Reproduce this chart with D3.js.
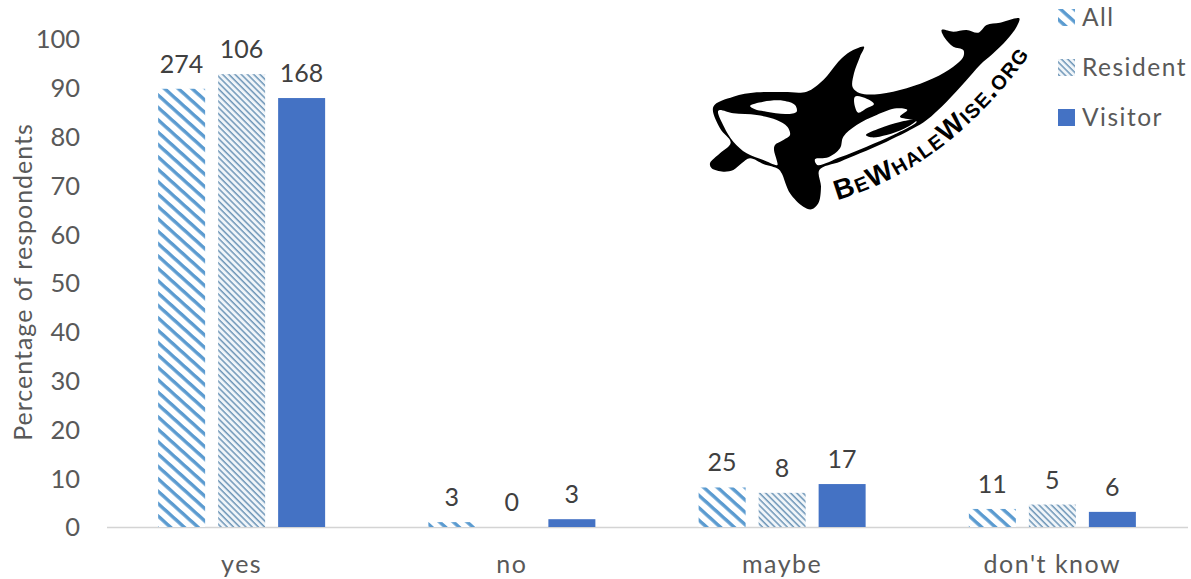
<!DOCTYPE html>
<html>
<head>
<meta charset="utf-8">
<script src="https://cdn.jsdelivr.net/npm/d3@7/dist/d3.min.js"></script>
<style>
  html, body { margin: 0; padding: 0; background: #fff; }
  svg { display: block; font-family: Lato, "Open Sans", sans-serif; }
</style>
</head>
<body>
<svg id="chart" width="1191" height="579"></svg>
<script>
// Survey responses, as percentages, with respondent counts printed above the bars.
const categories = ["yes", "no", "maybe", "don't know"];
const seriesNames = ["All", "Resident", "Visitor"];
const allPercent = [89.8, 1, 8.1, 3.7];
const residentPercent = [92.8, 0, 7.0, 4.6];
const visitorPercent = [87.9, 1.6, 8.8, 3.1];
const allCounts = [274, 3, 25, 11];
const residentCounts = [106, 0, 8, 5];
const visitorCounts = [168, 3, 17, 6];
const yTicks = [0, 10, 20, 30, 40, 50, 60, 70, 80, 90, 100];

const percents = [allPercent, residentPercent, visitorPercent];
const counts = [allCounts, residentCounts, visitorCounts];

const svg = d3.select("#chart");
const defs = svg.append("defs");

// Hatch fills for the two lighter series.
const wide = defs.append("pattern").attr("id", "hatch-all")
  .attr("patternUnits", "userSpaceOnUse").attr("width", 9.2).attr("height", 9.2)
  .attr("patternTransform", "rotate(42)");
wide.append("rect").attr("width", 9.2).attr("height", 9.2).attr("fill", "#fff");
wide.append("rect").attr("width", 9.2).attr("height", 3.4).attr("fill", "#5b9bd0");

const fine = defs.append("pattern").attr("id", "hatch-resident")
  .attr("patternUnits", "userSpaceOnUse").attr("width", 4.4).attr("height", 4.4)
  .attr("patternTransform", "rotate(45)");
fine.append("rect").attr("width", 4.4).attr("height", 4.4).attr("fill", "#f0f5f9");
fine.append("rect").attr("width", 4.4).attr("height", 1.5).attr("fill", "#6f97b8");

const fills = ["url(#hatch-all)", "url(#hatch-resident)", "#4472c4"];

const x = d3.scaleBand().domain(categories).range([106.5, 1187.5]);
const inner = d3.scaleBand().domain(d3.range(seriesNames.length))
  .range([0, 167]).paddingInner(13 / 60);
const y = d3.scaleLinear().domain([0, 100]).range([527, 39]);
const groupOffset = (x.bandwidth() - 167) / 2;

// Axes: text only on the value axis, a light rule along the baseline.
const yAxis = svg.append("g").attr("transform", "translate(80,0)")
  .call(d3.axisLeft(y).tickValues(yTicks).tickSize(0).tickPadding(0));
yAxis.select(".domain").remove();
yAxis.selectAll("text").attr("font-size", 25.5).attr("fill", "#595959")
  .attr("font-family", "Lato").attr("dy", "0.35em");

const xAxis = svg.append("g").attr("transform", "translate(0,527)")
  .call(d3.axisBottom(x).tickSize(0).tickPadding(0));
xAxis.select(".domain").attr("stroke", "#d4d4d4").attr("stroke-width", 1.6);
xAxis.selectAll("text").attr("font-size", 25).attr("fill", "#595959")
  .attr("font-family", "Lato").attr("letter-spacing", 1.5).attr("y", 46).attr("dy", 0);

svg.append("text")
  .attr("transform", "translate(32,282) rotate(-90)")
  .attr("text-anchor", "middle").attr("font-size", 25).attr("letter-spacing", 1)
  .attr("fill", "#595959")
  .text("Percentage of respondents");

// Bars and their count labels.
seriesNames.forEach((name, s) => {
  const g = svg.append("g").attr("class", "series-" + name);
  g.selectAll("rect").data(categories).join("rect")
    .attr("x", c => x(c) + groupOffset + inner(s))
    .attr("width", inner.bandwidth())
    .attr("y", (c, i) => y(percents[s][i]))
    .attr("height", (c, i) => y(0) - y(percents[s][i]))
    .attr("fill", fills[s]);
  g.selectAll("text").data(categories).join("text")
    .attr("x", c => x(c) + groupOffset + inner(s) + inner.bandwidth() / 2)
    .attr("y", (c, i) => y(percents[s][i]) - 16)
    .attr("text-anchor", "middle").attr("font-size", 25).attr("fill", "#404040")
    .text((c, i) => counts[s][i]);
});

// Legend.
const legendRows = [17, 67, 117];
const legend = svg.selectAll(".legend-row").data(seriesNames).join("g")
  .attr("class", "legend-row")
  .attr("transform", (d, i) => `translate(1058,${legendRows[i]})`);
legend.append("rect").attr("x", 0).attr("y", -8).attr("width", 17).attr("height", 17)
  .attr("fill", (d, i) => fills[i]);
legend.append("text").attr("x", 24).attr("y", 8.5)
  .attr("font-size", 24.5).attr("letter-spacing", 1.5).attr("fill", "#595959").text(d => d);

// Orca logo with the curved site name beneath it.
const logo = svg.append("g").attr("class", "logo").attr("transform", "translate(700,0) scale(0.3333)");
const curve = d3.line().curve(d3.curveCatmullRomClosed.alpha(0.5));

const bodyOutline = [[40,320],[100,290],[170,277],[250,276],[320,275],[370,240],[420,180],[450,155],[492,140],
  [480,170],[462,220],[458,262],[480,280],[540,282],[620,265],[700,235],[760,200],[790,170],[790,150],[760,140],
  [735,115],[725,90],[760,95],[800,90],[835,98],[860,75],[900,68],[958,55],[950,80],[920,120],[880,160],[840,195],
  [800,240],[740,305],[680,360],[640,385],[560,425],[480,460],[420,485],[358,510],[363,560],[355,610],[335,628],
  [310,620],[270,580],[245,520],[235,507],[190,492],[150,475],[125,490],[100,510],[70,515],[35,505],[30,490],[60,460],
  [92,428],[60,385]];
const belly = [[55,332],[100,340],[170,345],[230,360],[262,380],[270,405],[250,420],[225,435],[222,450],[230,480],
  [232,495],[190,480],[140,460],[100,425],[72,380]];
const eyePatch = [[150,318],[190,305],[250,302],[285,315],[290,335],[260,342],[200,335],[165,328]];
const saddle = [[465,290],[500,296],[522,312],[500,325],[475,338],[465,320]];
const flank = [[345,478],[385,472],[420,445],[430,410],[470,375],[530,345],[590,325],[622,330],[600,350],[640,360],
  [650,365],[580,405],[500,440],[420,472],[352,495]];
const flankSpot = [[498,405],[540,385],[600,366],[650,360],[615,385],[560,405],[515,412]];

logo.append("path").attr("d", curve(bodyOutline)).attr("fill", "#000");
[belly, eyePatch, saddle, flank].forEach(shape => {
  logo.append("path").attr("d", curve(shape)).attr("fill", "#fff");
});
logo.append("path").attr("d", curve(flankSpot)).attr("fill", "#000");

defs.append("path").attr("id", "logo-arc")
  .attr("d", "M412,600 Q760,500 1020,120");
logo.append("text")
  .attr("font-family", "'Liberation Sans', Arial, sans-serif")
  .attr("font-weight", 700).attr("font-size", 84).attr("fill", "#000")
  .style("font-variant", "small-caps")
  .attr("letter-spacing", 4)
  .append("textPath").attr("href", "#logo-arc")
  .text("BeWhaleWise.org");
</script>
</body>
</html>
